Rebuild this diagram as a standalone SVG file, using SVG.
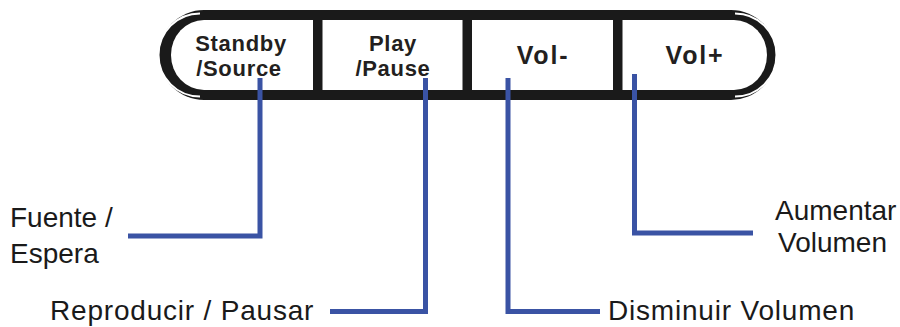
<svg xmlns="http://www.w3.org/2000/svg" width="900" height="327" viewBox="0 0 900 327">
<style>
.btn{font-family:"Liberation Sans",Arial,sans-serif;font-weight:bold;font-size:22px;letter-spacing:0.7px;fill:#231f20;text-anchor:middle}
.vol{font-size:25px;letter-spacing:1.8px}
.lbl{font-family:"Liberation Sans",Arial,sans-serif;font-size:28px;fill:#1a1a1a}
.wide{letter-spacing:0.8px}
.sep{fill:#1a1a1a}
.conn{fill:none;stroke:#3a53a4;stroke-width:5;stroke-linejoin:miter;stroke-linecap:butt}
.gap{fill:none;stroke:#fff;stroke-width:2}
</style>
<rect width="900" height="327" fill="#fff"/>
<g id="panel">
<rect x="159" y="10" width="617" height="90" rx="45" ry="45" fill="#1a1a1a"/>
<rect x="171" y="20" width="596" height="70" rx="33" ry="35" fill="#fff"/>
<path class="gap" d="M 200 13.5 A 41.5 41.5 0 0 0 200 96.5"/>
<path class="gap" d="M 735 13.5 A 41.5 41.5 0 0 1 735 96.5"/>
<rect class="sep" x="313" y="19" width="9.5" height="72"/>
<rect class="sep" x="462.5" y="19" width="9.5" height="72"/>
<rect class="sep" x="613" y="19" width="9.5" height="72"/>
</g>
<g id="btn-standby"><text class="btn" x="241" y="51">Standby</text><text class="btn" x="239" y="76">/Source</text></g>
<g id="btn-play"><text class="btn" x="393" y="51">Play</text><text class="btn" x="393" y="76">/Pause</text></g>
<g id="btn-volminus"><text class="btn vol" x="543" y="64">Vol-</text></g>
<g id="btn-volplus"><text class="btn vol" x="695" y="64">Vol+</text></g>
<g id="connectors">
<path class="conn" d="M260 78 V236 H128"/>
<path class="conn" d="M425.5 78 V311.5 H330"/>
<path class="conn" d="M508 78 V311.5 H600"/>
<path class="conn" d="M634.5 74 V233 H753"/>
</g>
<g id="label-fuente"><text class="lbl" x="10" y="227">Fuente /</text><text class="lbl" x="10" y="263">Espera</text></g>
<g id="label-reproducir"><text class="lbl wide" x="50" y="320">Reproducir / Pausar</text></g>
<g id="label-disminuir"><text class="lbl wide" x="608" y="320">Disminuir Volumen</text></g>
<g id="label-aumentar"><text class="lbl" x="775" y="220">Aumentar</text><text class="lbl" x="778" y="252">Volumen</text></g>
</svg>
